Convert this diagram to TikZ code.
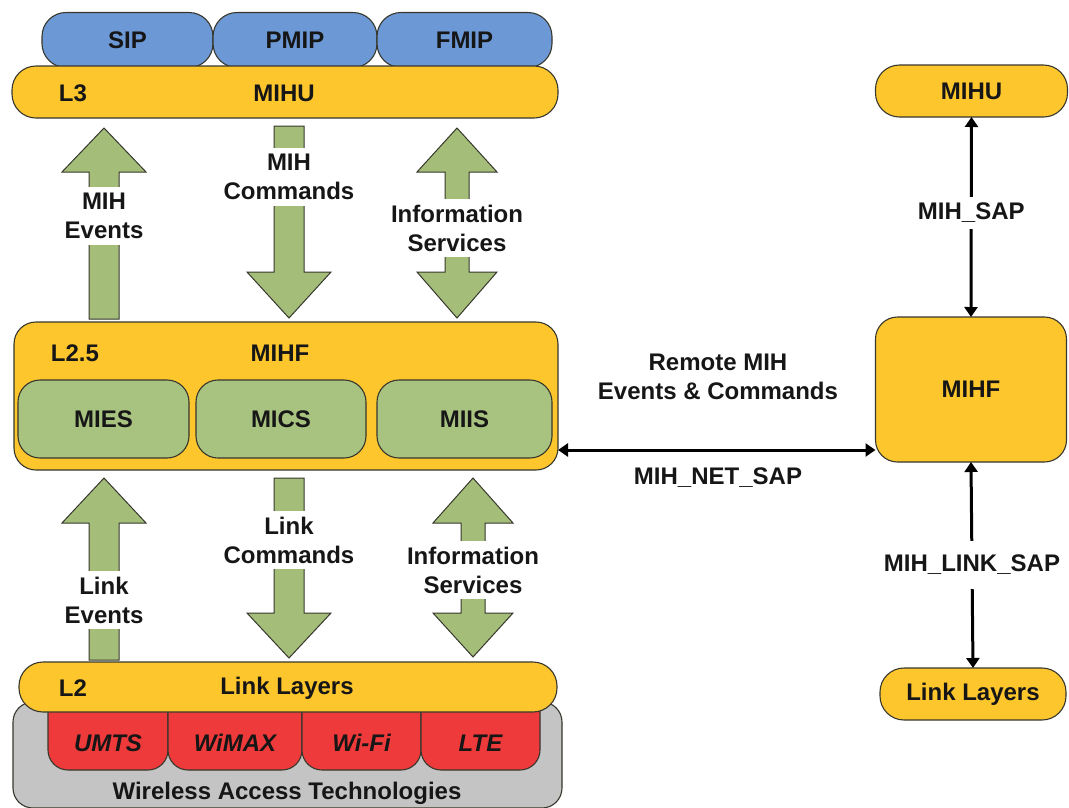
\documentclass[tikz,border=0pt]{standalone}
\usepackage{fontspec}
\setmainfont{Liberation Sans}
\usetikzlibrary{arrows.meta,calc}
\definecolor{ylw}{RGB}{253,198,45}
\definecolor{blu}{RGB}{108,153,214}
\definecolor{grn}{RGB}{164,190,122}
\definecolor{grnbox}{RGB}{168,195,128}
\definecolor{redbox}{RGB}{238,58,58}
\definecolor{gry}{RGB}{196,196,196}
\definecolor{edge}{RGB}{55,55,45}
\definecolor{txt}{RGB}{22,22,22}
\newcommand{\BlkUp}[4]{% x, tip, base, bottom
  \draw[blk] (#1,#2) -- ({#1+42},#3) -- ({#1+15},#3) -- ({#1+15},#4) -- ({#1-15},#4) -- ({#1-15},#3) -- ({#1-42},#3) -- cycle;}
\newcommand{\BlkDown}[4]{% x, top, base, tip
  \draw[blk] (#1,#4) -- ({#1+42},#3) -- ({#1+15},#3) -- ({#1+15},#2) -- ({#1-15},#2) -- ({#1-15},#3) -- ({#1-42},#3) -- cycle;}
\newcommand{\BlkBoth}[5]{% x, tip1, base1, base2, tip2
  \draw[blk] (#1,#2) -- ({#1+40},#3) -- ({#1+12},#3) -- ({#1+12},#4) -- ({#1+40},#4) -- (#1,#5) -- ({#1-40},#4) -- ({#1-12},#4) -- ({#1-12},#3) -- ({#1-40},#3) -- cycle;}
\begin{document}
\begin{tikzpicture}[x=1pt,y=-1pt,
  lbl/.style={font=\bfseries\fontsize{24}{29}\selectfont, text=txt, inner sep=0pt},
  box/.style={draw=edge, line width=1.1pt, inner sep=0pt, outer sep=0pt, font=\bfseries\fontsize{24}{29}\selectfont, text=txt},
  bluebox/.style={box, fill=blu, rounded corners=24pt},
  ylwbar/.style={box, fill=ylw, rounded corners=24pt},
  ylwbig/.style={box, fill=ylw, rounded corners=22pt},
  grnround/.style={box, fill=grnbox, rounded corners=22pt},
  redround/.style={box, fill=redbox, rounded corners=20pt},
  gryround/.style={box, fill=gry, rounded corners=20pt},
  blk/.style={draw=edge, line width=1pt, fill=grn},
  arrlbl/.style={lbl, fill=white, align=center, inner xsep=2pt, inner ysep=6pt},
  conn/.style={draw=black, line width=3pt, {Triangle[length=10pt,width=13pt]}-{Triangle[length=10pt,width=13pt]}}
]
\useasboundingbox (0,0) rectangle (1069,807);

% ---------- top protocols ----------
\node[bluebox, minimum width=171, minimum height=55] (sip) at (127.5,40) {SIP};
\node[bluebox, minimum width=164, minimum height=55] (pmip) at (295,40) {PMIP};
\node[bluebox, minimum width=175, minimum height=55] (fmip) at (464.5,40) {FMIP};
\node[ylwbar, minimum width=546, minimum height=52] (l3) at (285,92) {};
\node[lbl] (l3t) at (73,93) {L3};
\node[lbl] (mihut) at (284,93) {MIHU};

% ---------- MIHF ----------
\node[ylwbig, minimum width=544, minimum height=148] (mihf) at (286,396) {};
\node[lbl] (l25t) at (75,353) {L2.5};
\node[lbl] (mihft) at (280,353) {MIHF};
\node[grnround, minimum width=171, minimum height=78] (mies) at (103.5,419) {MIES};
\node[grnround, minimum width=170, minimum height=78] (mics) at (281,419) {MICS};
\node[grnround, minimum width=175, minimum height=78] (miis) at (464.5,419) {MIIS};

% ---------- upper block arrows ----------
\BlkUp{104}{128}{172}{319}
\BlkDown{289}{126}{272}{318}
\BlkBoth{457}{128}{172}{272}{318}
\node[arrlbl] (mihev) at (104,216) {MIH\\Events};
\node[arrlbl] (mihcmd) at (289,177) {MIH\\Commands};
\node[arrlbl] (infos1) at (457,228) {Information\\Services};

% ---------- lower block arrows ----------
\BlkUp{104}{478}{523}{660}
\BlkDown{289}{478}{613}{658}
\BlkBoth{473}{478}{523}{613}{657}
\node[arrlbl] (linkev) at (104,600) {Link\\Events};
\node[arrlbl] (linkcmd) at (289,540) {Link\\Commands};
\node[arrlbl] (infos2) at (473,570) {Information\\Services};

% ---------- link layers ----------
\node[gryround, minimum width=549, minimum height=106] (wat) at (287.5,755) {};
\node[redround, minimum width=120, minimum height=80] (umts) at (108,730) {};
\node[redround, minimum width=134, minimum height=80] (wimax) at (235,730) {};
\node[redround, minimum width=119, minimum height=80] (wifi) at (361.5,730) {};
\node[redround, minimum width=119, minimum height=80] (lte) at (480.5,730) {};
\node[ylwbar, minimum width=538, minimum height=50] (l2) at (288,687) {};
\node[lbl] (l2t) at (73,688) {L2};
\node[lbl] (linkt) at (287,688) {Link Layers};
\node[lbl, font=\bfseries\itshape\fontsize{24}{29}\selectfont] (umtst) at (108,743) {UMTS};
\node[lbl, font=\bfseries\itshape\fontsize{24}{29}\selectfont] (wimaxt) at (235,743) {WiMAX};
\node[lbl, font=\bfseries\itshape\fontsize{24}{29}\selectfont] (wifit) at (361.5,743) {Wi-Fi};
\node[lbl, font=\bfseries\itshape\fontsize{24}{29}\selectfont] (ltet) at (480.5,743) {LTE};
\node[lbl] (watt) at (287,793) {Wireless Access Technologies};

% ---------- remote side ----------
\node[ylwbar, minimum width=192, minimum height=52] (mihuR) at (971.5,91) {MIHU};
\node[ylwbig, minimum width=191, minimum height=145] (mihfR) at (971,389.5) {MIHF};
\node[ylwbar, minimum width=186, minimum height=52] (linkR) at (973,694) {Link Layers};

\coordinate (netY) at (0,450);
\draw[conn] (mihuR.south) -- node[lbl, fill=white, inner ysep=6pt, pos=0.48] (mihsap) {MIH\_SAP} (mihfR.north);
\draw[conn] (mihfR.south) -- node[lbl, fill=white, inner ysep=14pt, pos=0.5] (mihlinksap) {MIH\_LINK\_SAP} (linkR.north);
\draw[conn] (mihf.east |- netY) -- (mihfR.west |- netY);
\node[lbl, align=center] (remote) at (718,377) {Remote MIH\\Events \& Commands};
\node[lbl] (netsap) at (718,478) {MIH\_NET\_SAP};
\end{tikzpicture}
\end{document}
